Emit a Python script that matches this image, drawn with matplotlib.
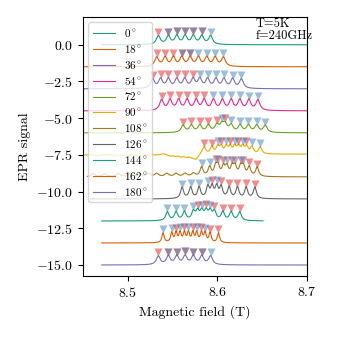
import numpy as np
import matplotlib
matplotlib.use('Agg')
import matplotlib.pyplot as plt

plt.rcParams['font.family'] = 'serif'
plt.rcParams['font.serif'] = ['cmr10']
plt.rcParams['mathtext.fontset'] = 'cm'
plt.rcParams['axes.formatter.use_mathtext'] = True
plt.rcParams['font.size'] = 10

# angles and vertical offsets of each spectrum
angles = [0, 18, 36, 54, 72, 90, 108, 126, 144, 162, 180]
offsets = [0.0, -1.5, -3.0, -4.5, -6.0, -7.5, -9.0, -10.5, -12.0, -13.5, -15.0]
heights = [0.7, 0.75, 0.8, 0.85, 0.8, 0.7, 1.0, 1.05, 0.9, 0.85, 0.7]
starts = [8.471, 8.44, 8.44, 8.44, 8.44, 8.44, 8.455, 8.458, 8.471, 8.471, 8.471]
ends = [8.71, 8.71, 8.71, 8.71, 8.71, 8.71, 8.71, 8.71, 8.651, 8.71, 8.71]
widths = [0.0026, 0.0026, 0.0026, 0.0026, 0.0026, 0.0020, 0.0020, 0.0020, 0.0022, 0.0015, 0.0026]

# hyperfine lines of the two sites (red / blue markers), field in T
red_peaks = [
    [8.5341, 8.5453, 8.5547, 8.5640, 8.5732, 8.5826],
    [8.5323, 8.5416, 8.5509, 8.5603, 8.5696],
    [8.5277, 8.5366, 8.5453, 8.5547, 8.5636, 8.5729],
    [8.5377, 8.5472, 8.5567, 8.5662, 8.5763, 8.5852],
    [8.5617, 8.5710, 8.5804, 8.5900, 8.5994, 8.6087],
    [8.5852, 8.5938, 8.6042, 8.6142, 8.6235, 8.6325],
    [8.5980, 8.6068, 8.6165, 8.6260, 8.6355, 8.6444],
    [8.5941, 8.6042, 8.6131, 8.6224, 8.6321, 8.6418],
    [8.5779, 8.5874, 8.5967, 8.6061, 8.6154, 8.6249],
    [8.5539, 8.5632, 8.5726, 8.5822, 8.5919, 8.6012],
    [8.5341, 8.5453, 8.5547, 8.5640, 8.5732, 8.5826],
]
blue_peaks = [
    [8.5453, 8.5547, 8.5640, 8.5732, 8.5826, 8.5924],
    [8.5603, 8.5696, 8.5788, 8.5882, 8.5975, 8.6068],
    [8.5804, 8.5891, 8.5984, 8.6073, 8.6170, 8.6268],
    [8.5956, 8.6056, 8.6154, 8.6251, 8.6351, 8.6452],
    [8.6050, 8.6154, 8.6254, 8.6347, 8.6439, 8.6534],
    [8.6003, 8.6098, 8.6193, 8.6282, 8.6385, 8.6478],
    [8.5824, 8.5913, 8.6008, 8.6106, 8.6198, 8.6291],
    [8.5606, 8.5701, 8.5796, 8.5893, 8.5992],
    [8.5442, 8.5539, 8.5632, 8.5732, 8.5826, 8.5919],
    [8.5394, 8.5491, 8.5584, 8.5677, 8.5770, 8.5863],
    [8.5453, 8.5547, 8.5640, 8.5732, 8.5826, 8.5924],
]

# weak bumps on the low-field side of the 108 deg spectrum
bumps_108 = [8.4615, 8.4746, 8.4895, 8.5025, 8.5137, 8.5232, 8.5323, 8.5435, 8.5539, 8.5640, 8.5733]
bump_h_108 = 0.22

# baseline drift and noise of the 90 deg spectrum
drift_b = [8.44, 8.48, 8.52, 8.535, 8.540, 8.548, 8.56, 8.572, 8.576, 8.582, 8.65, 8.71]
drift_v = [0.0, -0.03, -0.05, 0.0, 0.08, -0.12, -0.18, -0.25, -0.35, 0.05, 0.05, 0.05]
wig_b = [8.458, 8.466, 8.474, 8.481, 8.489, 8.497, 8.505, 8.512, 8.519, 8.527, 8.550, 8.556, 8.562, 8.568]
wig_a = [0.06, -0.05, 0.05, 0.07, -0.04, 0.05, 0.06, -0.05, 0.06, 0.05, 0.06, 0.07, 0.05, 0.06]

colors = plt.get_cmap('Dark2').colors


def lor(x, x0, w):
    return w**2 / (w**2 + (x - x0)**2)


def merge_lines(pos, tol=0.0015):
    pos = sorted(pos)
    out = [pos[0]]
    for p in pos[1:]:
        if p - out[-1] < tol:
            out[-1] = 0.5 * (out[-1] + p)
        else:
            out.append(p)
    return out


fig = plt.figure(figsize=(3.37, 3.37), dpi=100)
ax = fig.add_axes([0.246, 0.181, 0.665, 0.769])

for i, ang in enumerate(angles):
    B = np.linspace(starts[i], ends[i], 3000)
    lines = merge_lines(red_peaks[i] + blue_peaks[i])
    y = sum(lor(B, p, widths[i]) for p in lines)
    y = y - y.min()
    y = y / y.max() * heights[i]
    if ang == 108:
        y = y + sum(bump_h_108 * lor(B, p, 0.0025) for p in bumps_108)
    if ang == 90:
        y = y + np.interp(B, drift_b, drift_v)
        y = y + sum(a * lor(B, p, 0.0015) for p, a in zip(wig_b, wig_a))
    y = y + offsets[i]
    col = colors[i % 8]
    ax.plot(B, y, color=col, lw=0.8, label=r'$%d^\circ$' % ang)
    ax.plot(red_peaks[i], np.interp(red_peaks[i], B, y) + 0.22, 'v',
            color='#e41a1c', alpha=0.5, ms=5.5, mec='none')
    ax.plot(blue_peaks[i], np.interp(blue_peaks[i], B, y) + 0.22, 'v',
            color='#377eb8', alpha=0.5, ms=5.5, mec='none')

ax.set_xlim(8.45, 8.7)
ax.set_ylim(-15.75, 1.9)
ax.set_xticks([8.5, 8.6, 8.7])
ax.set_yticks([0, -2.5, -5, -7.5, -10, -12.5, -15])
ax.set_xlabel('Magnetic field (T)')
ax.set_ylabel('EPR signal')
ax.text(0.77, 0.995, 'T=5K\nf=240GHz', transform=ax.transAxes, va='top', ha='left',
        fontsize=9, linespacing=1.0)
ax.legend(loc='upper left', fontsize=8, labelspacing=0.35)

fig.savefig('out.png', dpi=100)
